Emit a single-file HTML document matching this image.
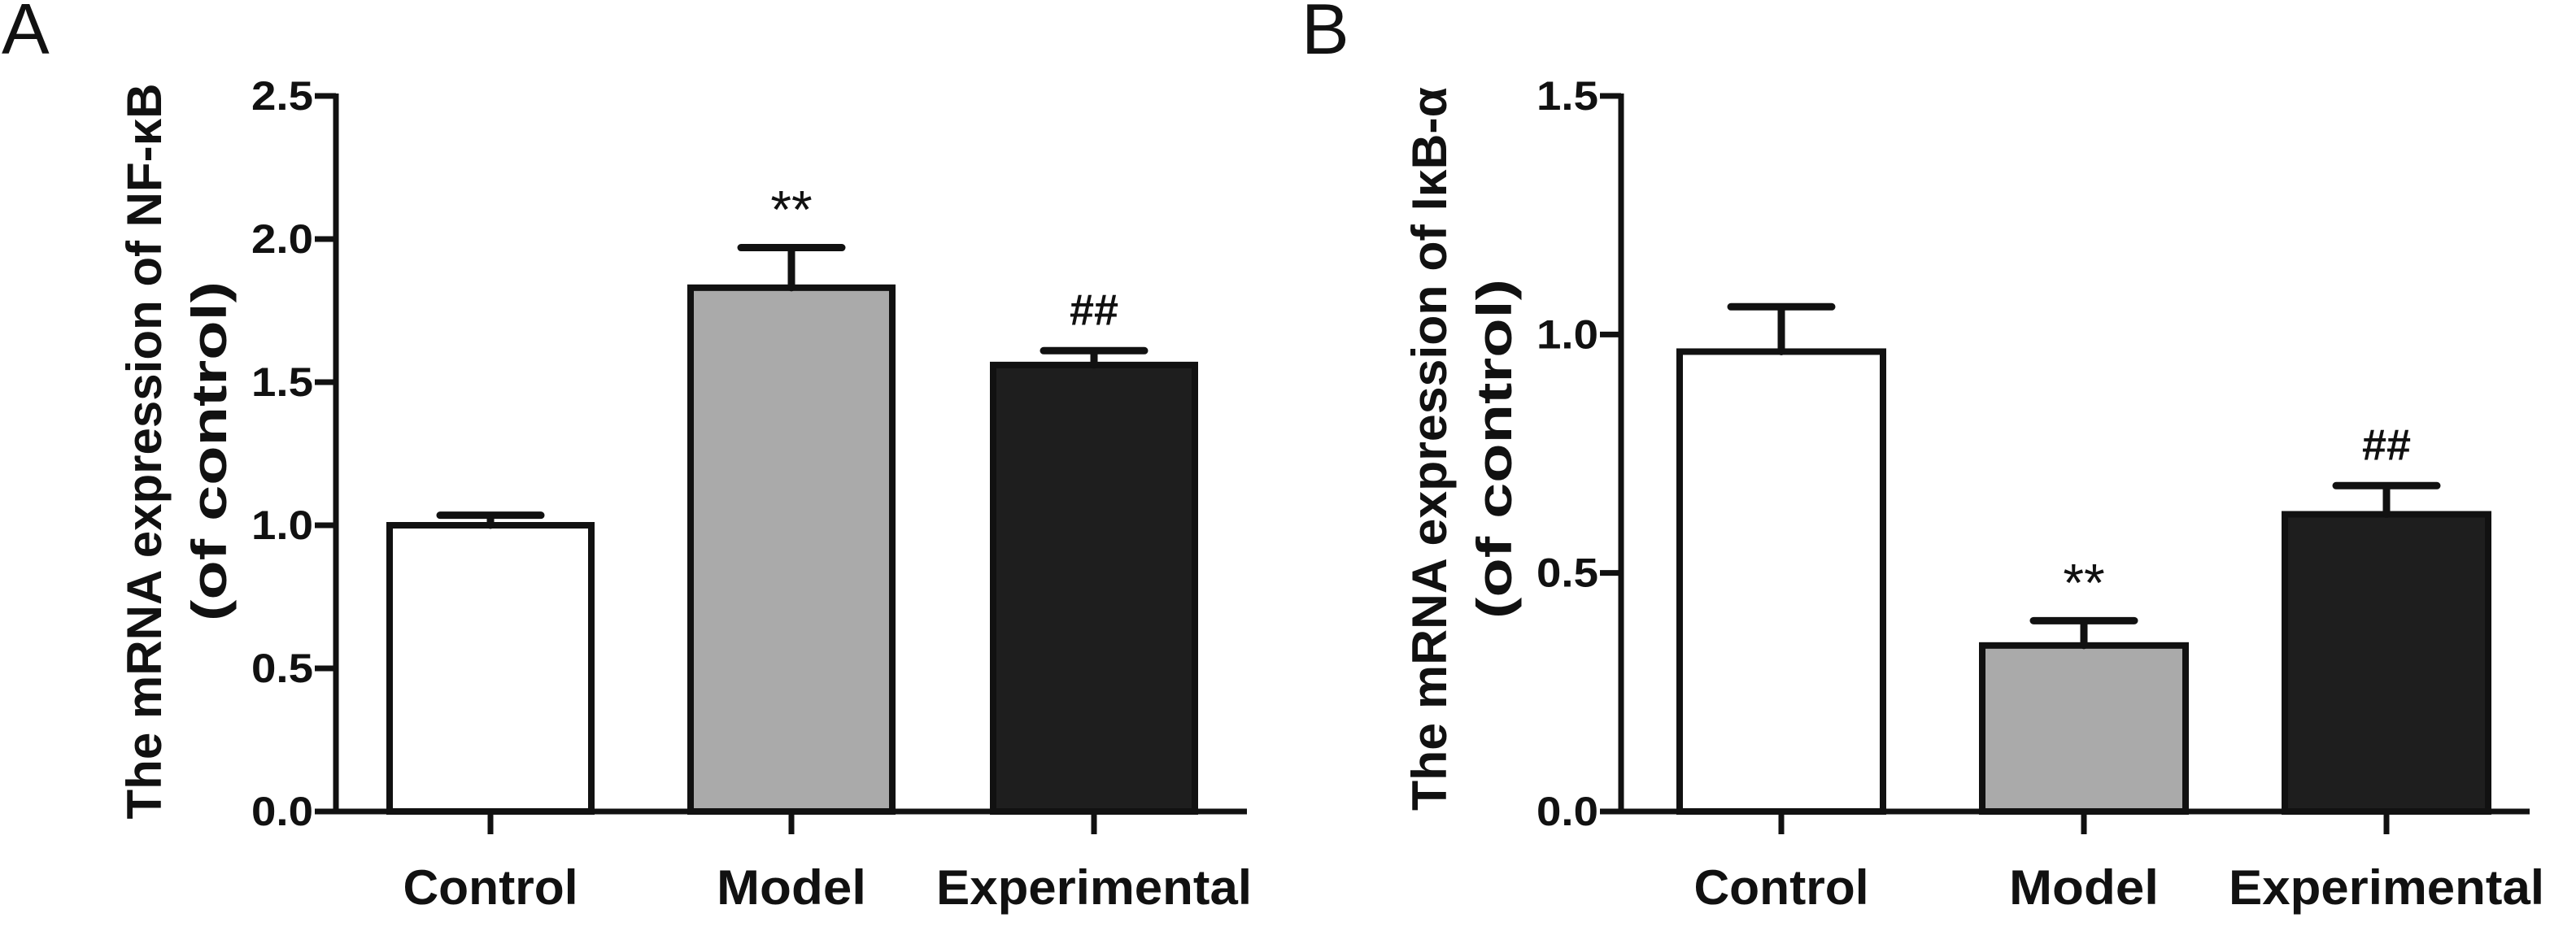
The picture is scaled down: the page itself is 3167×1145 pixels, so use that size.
<!DOCTYPE html>
<html><head><meta charset="utf-8"><style>
html,body{margin:0;padding:0;background:#fff;}
svg{display:block;}
text{font-family:"Liberation Sans",sans-serif;fill:#111;}
</style></head><body>
<svg id="fig" width="3167" height="1145" viewBox="0 0 3167 1145">
<text x="2" y="66" font-size="88">A</text>
<text x="1600" y="66" font-size="88">B</text>
<g id="pa"></g>
<g id="pb"></g>
</svg>
<script>
const categories = ["Control", "Model", "Experimental"];
const valuesA = [1.0, 1.83, 1.56];
const errorsA = [0.035, 0.14, 0.05];
const marksA = ["", "**", "##"];
const ticksA = ["0.0", "0.5", "1.0", "1.5", "2.0", "2.5"];
const valuesB = [0.964, 0.348, 0.623];
const errorsB = [0.094, 0.052, 0.06];
const marksB = ["", "**", "##"];
const ticksB = ["0.0", "0.5", "1.0", "1.5"];

const NS = "http://www.w3.org/2000/svg";
const fills = ["#ffffff", "#aaaaaa", "#1e1e1e"];
function mk(parent, tag, attrs, txt) {
  const e = document.createElementNS(NS, tag);
  for (const k in attrs) e.setAttribute(k, attrs[k]);
  if (txt !== undefined) e.textContent = txt;
  parent.appendChild(e);
  return e;
}
function drawPanel(g, cfg, values, errors, marks, ticks) {
  const ymax = parseFloat(ticks[ticks.length - 1]);
  const y = v => cfg.y0 - (v / ymax) * (cfg.y0 - cfg.yTop);
  const x = i => cfg.tickX[i];
  values.forEach((v, i) => {
    const r = mk(g, "rect", {x: x(i) - cfg.bw / 2, y: y(v), width: cfg.bw, height: cfg.y0 - y(v), fill: fills[i], stroke: "#111", "stroke-width": 8});
    
    
    const top = y(v + errors[i]);
    const el = mk(g, "path", {d: `M${x(i)},${y(v)} V${top} M${x(i) - 62},${top} H${x(i) + 62}`, stroke: "#111", "stroke-width": 9, "stroke-linecap": "round", fill: "none"});
    
    
    if (marks[i]) {
      const m = mk(g, "text", {x: x(i), y: top - (marks[i] === "**" ? 24 : 32), "font-size": marks[i] === "**" ? 66 : 54, "text-anchor": "middle", "font-weight": marks[i] === "**" ? "normal" : "bold"}, marks[i]);
      
      
    }
    const c = mk(g, "path", {d: `M${x(i)},${cfg.y0} V${cfg.y0 + 28}`, stroke: "#111", "stroke-width": 7});
    
    
    const lab = mk(g, "text", {x: x(i), y: 1112, "font-size": 60, "font-weight": "bold", "text-anchor": "middle", textLength: cfg.labW[i], lengthAdjust: "spacingAndGlyphs"}, categories[i]);
    
    
  });
  const ax = mk(g, "path", {d: `M${cfg.ax},${cfg.yTop - 3} V${cfg.y0} H${cfg.xEnd}`, stroke: "#111", "stroke-width": 7, fill: "none"});
  
  
  ticks.forEach(t => {
    const ty = y(parseFloat(t));
    const tk = mk(g, "path", {d: `M${cfg.ax - 26},${ty} H${cfg.ax}`, stroke: "#111", "stroke-width": 7});
    
    
    const tl = mk(g, "text", {x: cfg.ax - 28, y: ty + 17, "font-size": 50, "font-weight": "bold", "text-anchor": "end", textLength: 76, lengthAdjust: "spacingAndGlyphs"}, t);
    
    
  });
  const t1 = mk(g, "text", {x: 0, y: 0, "font-size": 60, "font-weight": "bold", "text-anchor": "middle", transform: `translate(${cfg.t1x},${cfg.tcy}) rotate(-90)`, textLength: cfg.t1len, lengthAdjust: "spacingAndGlyphs"}, cfg.title);
  
  
  const t2 = mk(g, "text", {x: 0, y: 0, "font-size": 60, "font-weight": "bold", "text-anchor": "middle", transform: `translate(${cfg.t1x + 80},${cfg.tcy}) rotate(-90)`, textLength: 418, lengthAdjust: "spacingAndGlyphs"}, "(of control)");
  
  
}
drawPanel(document.getElementById("pa"),
  {y0: 998, yTop: 118, ax: 413, xEnd: 1533, tickX: [603, 973, 1345], bw: 248, labW: [215, 184, 388], t1x: 198, tcy: 555, t1len: 905, title: "The mRNA expression of NF-\u03baB"},
  valuesA, errorsA, marksA, ticksA);
drawPanel(document.getElementById("pb"),
  {y0: 998, yTop: 118, ax: 1993, xEnd: 3110, tickX: [2190, 2562, 2934], bw: 250, labW: [215, 184, 388], t1x: 1778, tcy: 552, t1len: 890, title: "The mRNA expression of I\u03baB-\u03b1"},
  valuesB, errorsB, marksB, ticksB);
</script>
</body></html>
